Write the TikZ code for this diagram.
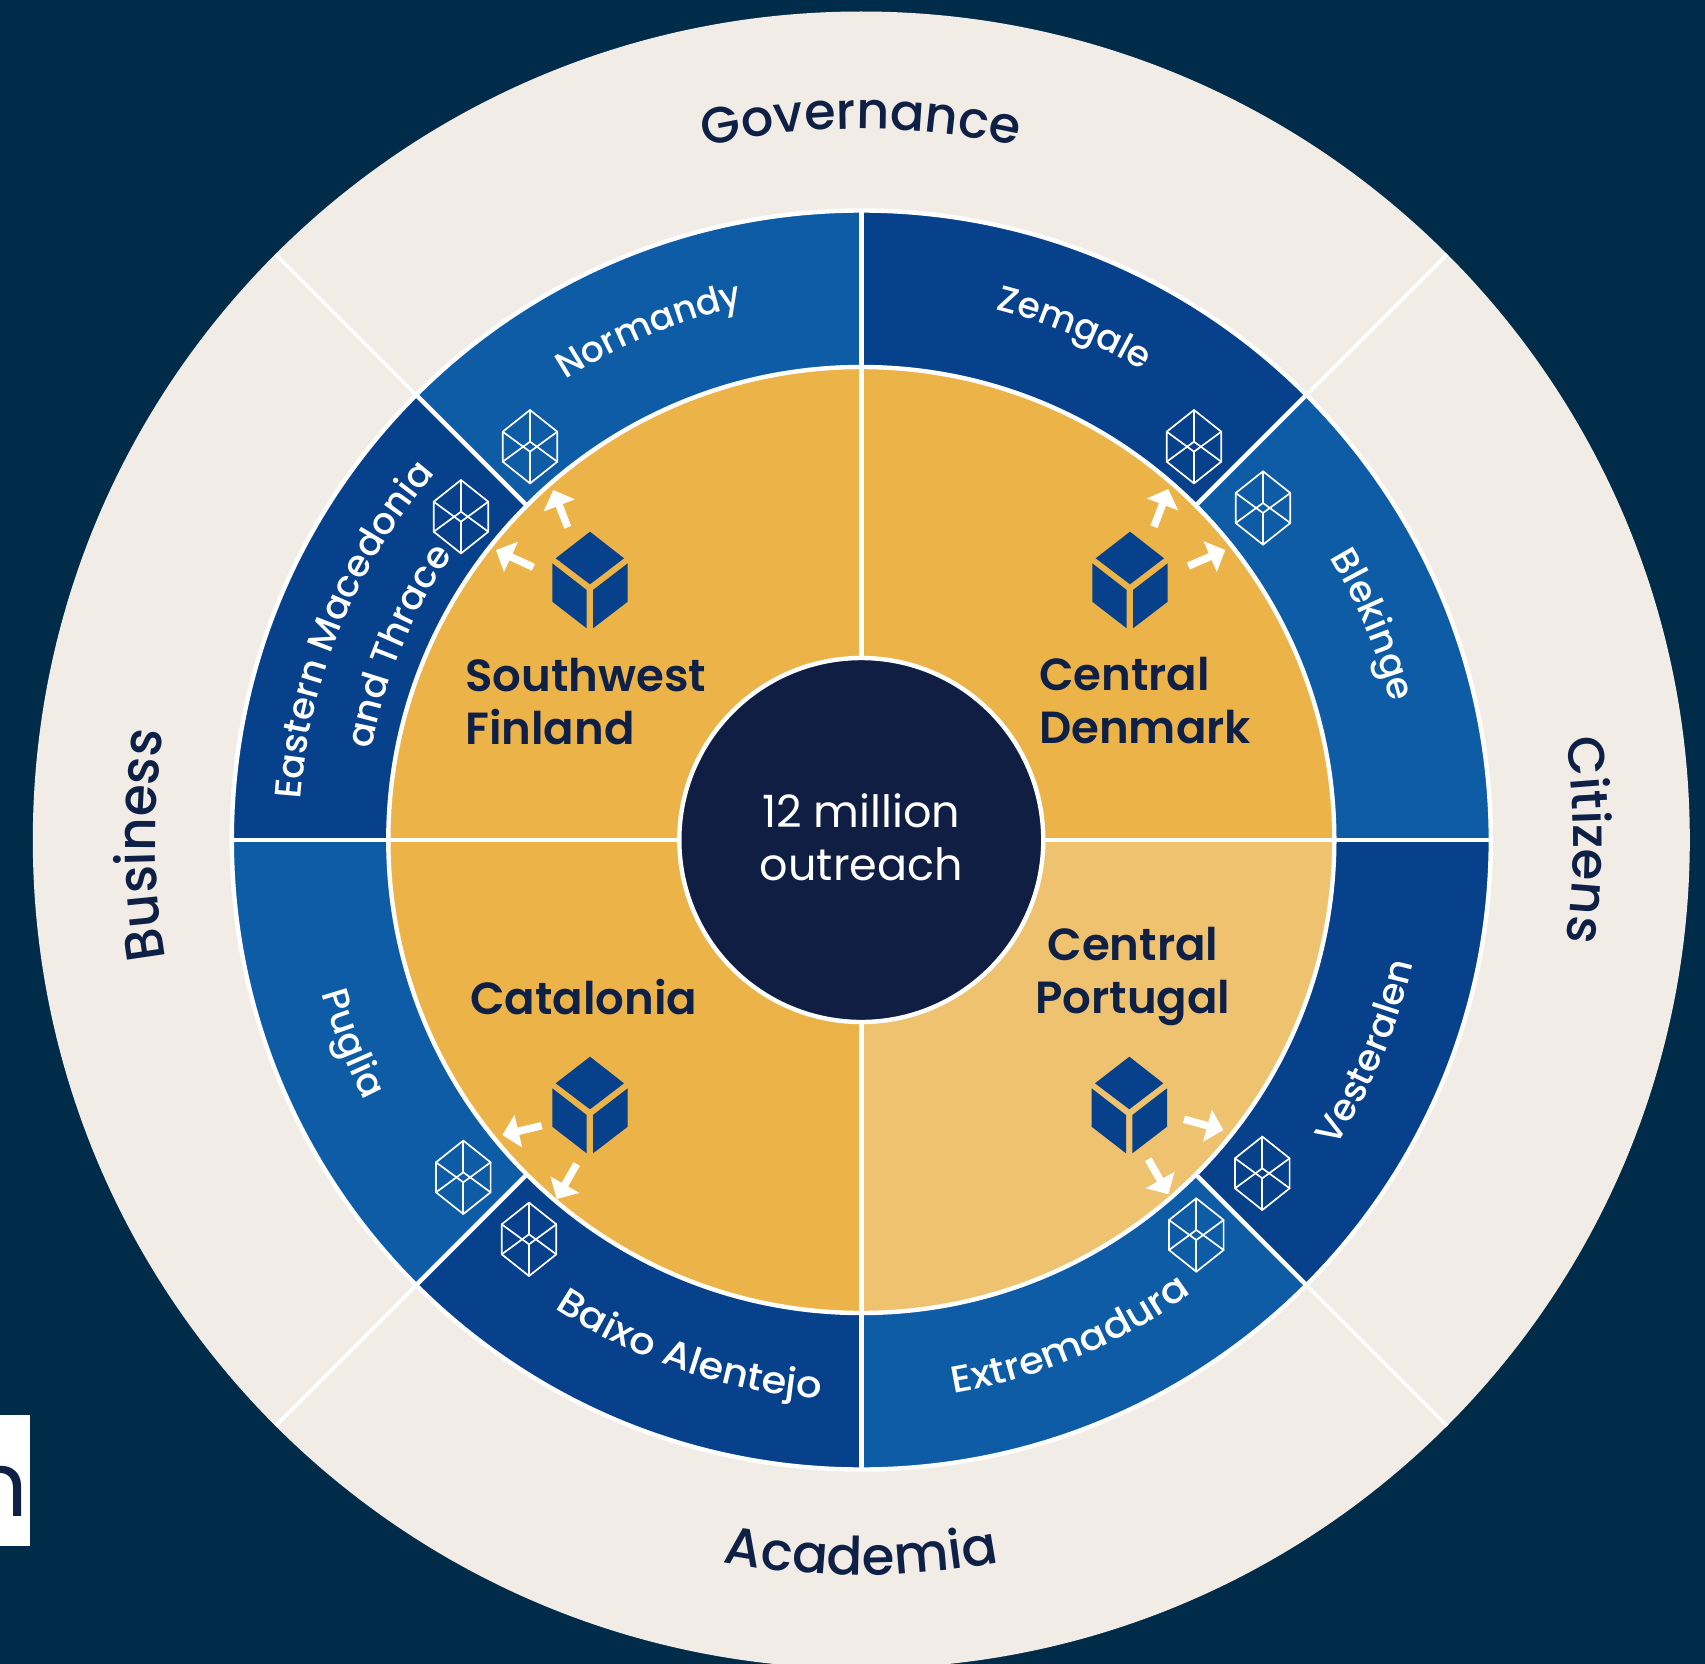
\documentclass[tikz,border=0pt]{standalone}
\usepackage{fontspec}
\usetikzlibrary{decorations.text,arrows.meta}
\setmainfont{Poppins}
\newfontfamily\popsemi{Poppins SemiBold}
\newfontfamily\popmed{Poppins Medium}
\newfontfamily\popwide[FakeStretch=1.07]{Poppins Medium}
\newfontfamily\popnarrow[FakeStretch=0.95]{Poppins Medium}
\definecolor{bgc}{HTML}{002C4A}
\definecolor{beige}{HTML}{F1EDE6}
\definecolor{lblue}{HTML}{0D5CA5}
\definecolor{dblue}{HTML}{07418B}
\definecolor{orng}{HTML}{ECB349}
\definecolor{lorng}{HTML}{EFC26F}
\definecolor{navy}{HTML}{0F1E42}
\definecolor{inkc}{HTML}{0F2046}
\tikzset{
  divider/.style={draw=white,line width=4.4pt},
  thindivider/.style={draw=white,line width=3.8pt},
  hexline/.style={draw=white,line width=1.7pt,line join=round,line cap=round},
  blockarrow/.style={draw=white,line width=7.5pt,-{Triangle[length=16.5pt,width=32.5pt,sep=0pt]},white},
  region/.style={text=inkc,inner sep=0pt,align=left,font=\popsemi\fontsize{45}{53}\selectfont},
  hubtext/.style={inner sep=0pt,align=center,text=white,font=\fontsize{44.5}{53}\selectfont},
}
\newcommand\wedgefill[3]{\fill[#3] (C) -- ([shift={(#1:629.5pt)}]C) arc[start angle=#1,end angle=#2,radius=629.5pt] -- cycle;}
\newcommand\quadfill[3]{\fill[#3] (C) -- ([shift={(#1:473pt)}]C) arc[start angle=#1,end angle=#2,radius=473pt] -- cycle;}
\newcommand\cwlabel[4]{%
  \pgfmathsetmacro\sA{#2+60}\pgfmathsetmacro\sB{#2-60}%
  \path[decorate,decoration={text along path,text align=center,text={|#3|#4}}]
    ([shift={(\sA:#1pt)}]C) arc[start angle=\sA,end angle=\sB,radius=#1pt];}
\newcommand\ccwlabel[4]{%
  \pgfmathsetmacro\sA{#2-60}\pgfmathsetmacro\sB{#2+60}%
  \path[decorate,decoration={text along path,text align=center,text={|#3|#4}}]
    ([shift={(\sA:#1pt)}]C) arc[start angle=\sA,end angle=\sB,radius=#1pt];}
\newcommand\ringfmt[1]{\popmed\fontsize{#1}{60}\selectfont\color{inkc}}
\newcommand\bizfmt{\popnarrow\fontsize{54.5}{60}\selectfont\color{inkc}}
\newcommand\sectfmt{\popmed\fontsize{37}{44}\selectfont\color{white}}
\newcommand\sectsmall{\popmed\fontsize{36}{44}\selectfont\color{white}}
\newcommand\sectwide{\popwide\fontsize{37.5}{44}\selectfont\color{white}}
\newcommand\cube[2]{%
  \begin{scope}[shift={(#1,#2)}]
    \fill[dblue] (0,-52.6) -- (34,-26) -- (0,0) -- (-34.3,-26) -- cycle;
    \fill[dblue] (-37.7,-21) -- (-3.3,5.7) -- (-3.3,44) -- (-37.7,17.4) -- cycle;
    \fill[dblue] (3,5.7) -- (37.7,-21) -- (37.7,17.4) -- (3,44) -- cycle;
  \end{scope}}
\newcommand\hexicon[2]{%
  \begin{scope}[shift={(#1,#2)}]
    \draw[hexline] (0,-36.7) -- (27.3,-15) -- (27.3,15) -- (0,36.7) -- (-27.3,15) -- (-27.3,-15) -- cycle;
    \draw[hexline] (0,-36.7) -- (0,-5) (0,5) -- (0,36.7);
    \draw[hexline] (-27.3,-15) -- (0,5) -- (27.3,-15);
    \draw[hexline] (-27.3,15) -- (0,-5) -- (27.3,15);
  \end{scope}}
\newcommand\blockarr[5]{%
  \coordinate (#1t) at (#2,#3);\coordinate (#1h) at (#4,#5);
  \draw[blockarrow] (#1t) -- (#1h);}
\begin{document}
\begin{tikzpicture}[x=1pt,y=-1pt]
\useasboundingbox (0,0) rectangle (1705,1664);
\clip (0,0) rectangle (1705,1664);
\fill[bgc] (0,0) rectangle (1705,1664);
\coordinate (C) at (861.3,840);
% fragment at the left edge
\fill[white] (0,1415) rectangle (30,1546);
\begin{scope}
  \clip (0,1415) rectangle (30,1546);
  \node[anchor=base east,inner sep=0pt,text=inkc,font=\fontsize{90}{90}\selectfont] (frag) at (28,1516) {n};
\end{scope}
% outer ring
\fill[beige] (C) circle[radius=828.5pt];
\foreach \a in {45,135,225,315}{\draw[thindivider] ([shift={(\a:620pt)}]C) -- ([shift={(\a:828.5pt)}]C);}
% blue ring
\wedgefill{45}{90}{dblue}
\wedgefill{0}{45}{lblue}
\wedgefill{315}{360}{dblue}
\wedgefill{270}{315}{lblue}
\wedgefill{225}{270}{dblue}
\wedgefill{180}{225}{lblue}
\wedgefill{135}{180}{dblue}
\wedgefill{90}{135}{lblue}
\draw[divider] (C) circle[radius=629.5pt];
\foreach \a in {0,45,...,315}{\draw[divider] (C) -- ([shift={(\a:629.5pt)}]C);}
% quadrants
\quadfill{0}{90}{orng}
\quadfill{90}{180}{orng}
\quadfill{180}{270}{orng}
\quadfill{270}{360}{lorng}
\draw[divider] (C) circle[radius=473pt];
\foreach \a in {0,90,180,270}{\draw[divider] (C) -- ([shift={(\a:473pt)}]C);}
% centre
\node[circle,fill=navy,draw=white,line width=4.4pt,minimum size=364pt,inner sep=0pt] (hub) at (C) {};
\node[hubtext] (hubt) at (861.3,837) {12 million\\outreach};
% ring labels
\cwlabel{711}{90}{\ringfmt{51}}{Governance}
\cwlabel{712}{0}{\ringfmt{51.5}}{Citizens}
\cwlabel{706}{180.4}{\bizfmt}{Business}
\ccwlabel{735}{270}{\ringfmt{53}}{Academia}
% sector labels
\cwlabel{547}{112.6}{\sectsmall}{Normandy}
\cwlabel{547}{67.4}{\sectsmall}{Zemgale}
\cwlabel{547}{22.8}{\sectfmt}{Blekinge}
\cwlabel{562}{157.6}{\sectfmt}{Eastern Macedonia}
\cwlabel{498}{157.3}{\sectfmt}{and Thrace}
\ccwlabel{561}{201.8}{\sectfmt}{Puglia}
\ccwlabel{560}{251.3}{\sectwide}{Baixo Alentejo}
\ccwlabel{561}{292.8}{\sectwide}{Extremadura}
\ccwlabel{565}{337.2}{\sectfmt}{Vesteralen}
% regions
\node[region,anchor=west] (r1) at (465,702) {Southwest\\Finland};
\node[region,anchor=west] (r2) at (1039,701) {Central\\Denmark};
\node[region,anchor=west] (r3) at (470,997) {Catalonia};
\node[region,align=center] (r4) at (1133,976) {Central\\Portugal};
% icons
\cube{590}{584.3}
\cube{1130}{584.3}
\cube{590}{1109.3}
\cube{1129.3}{1109.3}
\hexicon{530}{446.7}
\hexicon{461}{516.7}
\hexicon{1194}{446.7}
\hexicon{1263}{508}
\hexicon{1262.3}{1173.3}
\hexicon{1196.3}{1235}
\hexicon{463.3}{1177.3}
\hexicon{529}{1239.3}
% arrows
\blockarr{a1}{567.7}{527.3}{553.3}{490}
\blockarr{a2}{533.3}{567.3}{496}{550}
\blockarr{a3}{1154}{526.7}{1168.3}{489}
\blockarr{a4}{1188.3}{566}{1225.3}{550}
\blockarr{a5}{541.7}{1125.7}{502.3}{1135}
\blockarr{a6}{576.7}{1164}{556.7}{1199}
\blockarr{a7}{1184}{1119.3}{1223.3}{1130}
\blockarr{a8}{1148.3}{1159.3}{1168.3}{1194.3}
\end{tikzpicture}
\end{document}
